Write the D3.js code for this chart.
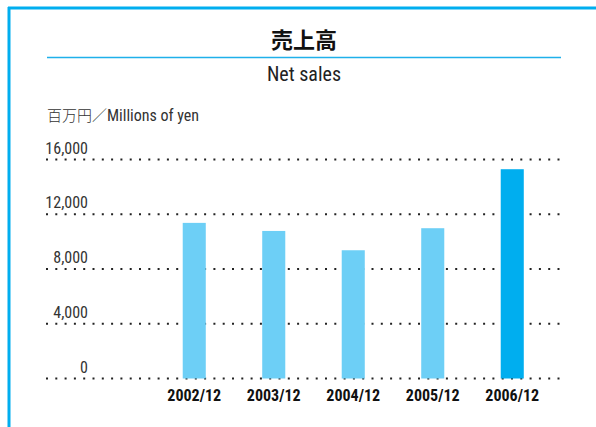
<!DOCTYPE html>
<html>
<head>
<meta charset="utf-8">
<script src="https://cdn.jsdelivr.net/npm/d3@7"></script>
<style>
  html, body { margin: 0; padding: 0; background: #fff; }
  svg { display: block; }
</style>
</head>
<body>
<script>
// Data
const categories = ["2002/12", "2003/12", "2004/12", "2005/12", "2006/12"];
const netSales = [11370, 10780, 9370, 10980, 15290];
const yTicks = [0, 4000, 8000, 12000, 16000];
const highlightCategory = "2006/12";

const width = 596;
const height = 427;
const narrow = "'Liberation Sans Narrow', 'Roboto Condensed', 'Liberation Sans', sans-serif";
const cjk = "'Noto Sans CJK JP', sans-serif";

const svg = d3.select("body")
  .append("svg")
  .attr("width", width)
  .attr("height", height)
  .attr("viewBox", [0, 0, width, height]);

// Frame: blue rule along top and left
svg.append("line")
  .attr("x1", 8).attr("x2", width)
  .attr("y1", 8).attr("y2", 8)
  .attr("stroke", "#00aeef")
  .attr("stroke-width", 3);
svg.append("line")
  .attr("x1", 9).attr("x2", 9)
  .attr("y1", 7).attr("y2", height)
  .attr("stroke", "#00aeef")
  .attr("stroke-width", 3);

// Titles
svg.append("text")
  .attr("x", 304)
  .attr("y", 48)
  .attr("text-anchor", "middle")
  .style("font-family", cjk)
  .style("font-weight", 700)
  .style("font-size", "22px")
  .style("fill", "#111")
  .text("売上高");

svg.append("line")
  .attr("x1", 47).attr("x2", 561)
  .attr("y1", 57.5).attr("y2", 57.5)
  .attr("stroke", "#1fb0ea")
  .attr("stroke-width", 1.3);

svg.append("text")
  .attr("x", 304)
  .attr("y", 81)
  .attr("text-anchor", "middle")
  .style("font-family", narrow)
  .style("font-size", "20px")
  .style("fill", "#222")
  .text("Net sales");

// Unit label
const unit = svg.append("text")
  .attr("x", 47)
  .attr("y", 121)
  .style("fill", "#333");
unit.append("tspan").style("font-family", cjk).style("font-weight", 300).style("font-size", "15px").text("百万円／");
unit.append("tspan").style("font-family", narrow).style("font-size", "16px").text("Millions of yen");

// Scales
const x = d3.scaleBand()
  .domain(categories)
  .range([154.5, 552])
  .paddingInner(0.71)
  .paddingOuter(0.355);

const y = d3.scaleLinear()
  .domain([0, 16000])
  .range([378.5, 159.5]);

// Dotted gridlines
svg.append("g")
  .selectAll("line")
  .data(yTicks)
  .join("line")
  .attr("x1", 46)
  .attr("x2", 563)
  .attr("y1", d => y(d))
  .attr("y2", d => y(d))
  .attr("stroke", "#222")
  .attr("stroke-width", 2)
  .attr("stroke-dasharray", "2,7.3");

// Y tick labels sit above their gridline
svg.append("g")
  .selectAll("text")
  .data(yTicks)
  .join("text")
  .attr("x", 88)
  .attr("y", d => y(d) - 6)
  .attr("text-anchor", "end")
  .style("font-family", narrow)
  .style("font-size", "16px")
  .style("fill", "#333")
  .text(d => d3.format(",")(d));

// Bars
svg.append("g")
  .selectAll("rect")
  .data(categories)
  .join("rect")
  .attr("x", d => x(d))
  .attr("width", x.bandwidth())
  .attr("y", (d, i) => y(netSales[i]))
  .attr("height", (d, i) => y(0) - y(netSales[i]))
  .attr("fill", d => d === highlightCategory ? "#00aeef" : "#6dcff6");

// Category labels
svg.append("g")
  .selectAll("text")
  .data(categories)
  .join("text")
  .attr("x", d => x(d) + x.bandwidth() / 2)
  .attr("y", 401)
  .attr("text-anchor", "middle")
  .style("font-family", narrow)
  .style("font-weight", 700)
  .style("font-size", "16px")
  .style("fill", "#111")
  .text(d => d);
</script>
</body>
</html>
